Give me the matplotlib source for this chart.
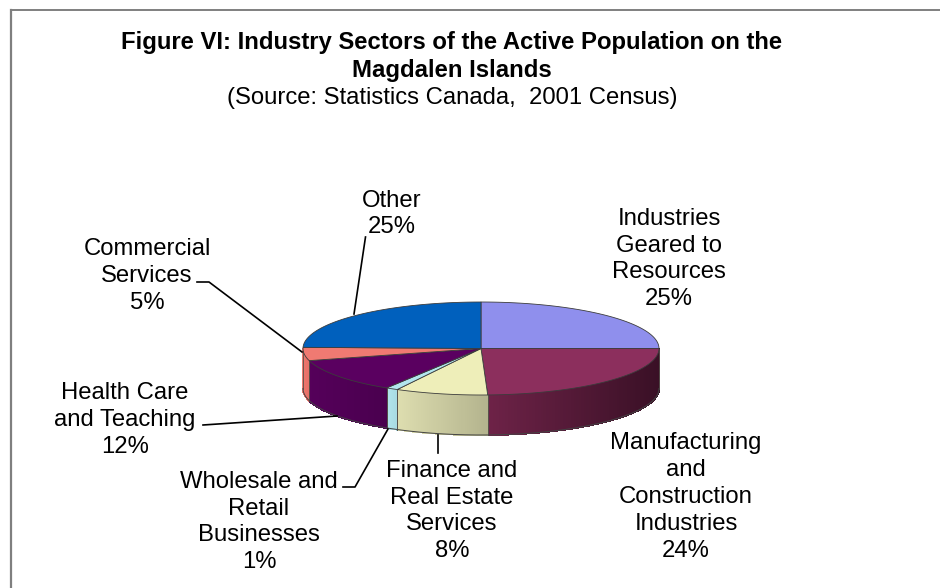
import numpy as np
import matplotlib
matplotlib.use("Agg")
import matplotlib.pyplot as plt
from matplotlib.colors import to_rgb
from matplotlib.patches import Polygon

plt.rcParams['font.family'] = ['Liberation Sans', 'DejaVu Sans']

sectors = ["Industries\nGeared to\nResources", "Manufacturing\nand\nConstruction\nIndustries",
           "Finance and\nReal Estate\nServices", "Wholesale and\nRetail\nBusinesses",
           "Health Care\nand Teaching", "Commercial\nServices", "Other"]
shares = [25, 24.4, 8.4, 1.1, 11.9, 4.6, 24.6]
top_colors = ["#8f8fed", "#8c2f5d", "#eeeeb9", "#b3e6ee", "#5a0060", "#f07a72", "#0060bd"]
side_left = ["#8f8fed", "#6e2348", "#dedeb0", "#b3e6ee", "#55005a", "#ee7a70", "#0060bd"]
side_right = ["#8f8fed", "#3a1026", "#b4b48e", "#a8dbe3", "#4a004f", "#e87068", "#0060bd"]
label_xy = [(669, 259), (686, 497), (452, 511), (259, 522), (125, 420), (147, 276), (392, 214)]
pct_text = ["25%", "24%", "8%", "1%", "12%", "5%", "25%"]
leaders = [None, None,
           [(438, 435), (438, 453)],
           [(388, 429), (355, 487), (343, 487)],
           [(337, 416), (218, 424), (203, 425)],
           [(302, 352), (209, 282), (197, 282)],
           [(354, 314), (365.5, 237)]]

CX, CY, RX, RY, DEPTH = 481, 348.5, 178, 46.5, 40

fig = plt.figure(figsize=(9.4, 5.88), dpi=100, facecolor="white")
ax = fig.add_axes([0, 0, 1, 1])
ax.set_xlim(0, 940)
ax.set_ylim(588, 0)
ax.axis("off")


def pt(theta):
    return CX + RX * np.cos(theta), CY - RY * np.sin(theta)


fractions = np.array(shares) / sum(shares)
ends = np.pi / 2 - 2 * np.pi * np.cumsum(fractions)
starts = np.concatenate([[np.pi / 2], ends[:-1]])

# side walls (only the front half of the cylinder shows)
for a0, a1, cl, cr in zip(starts, ends, side_left, side_right):
    hi = min(a0, 0.0)
    lo = max(a1, -np.pi)
    if hi <= lo:
        continue
    edges = np.linspace(lo, hi, 90)
    cl, cr = np.array(to_rgb(cl)), np.array(to_rgb(cr))
    for t0, t1 in zip(edges[:-1], edges[1:]):
        x0, y0 = pt(t0)
        x1, y1 = pt(t1)
        f = (0.5 * (x0 + x1) - pt(lo)[0]) / max(pt(hi)[0] - pt(lo)[0], 1)
        col = cl * (1 - f) + cr * f
        ax.add_patch(Polygon([(x0, y0), (x1, y1), (x1, y1 + DEPTH), (x0, y0 + DEPTH)],
                             closed=True, fc=col, ec=col, lw=0.8, antialiased=False, zorder=2))
    xa, ya = pt(lo)
    xb, yb = pt(hi)
    ax.plot([xa, xa], [ya, ya + DEPTH], color="#55504a", lw=0.6, zorder=3)
    ax.plot([xb, xb], [yb, yb + DEPTH], color="#55504a", lw=0.6, zorder=3)

ang = np.linspace(-np.pi, 0, 200)
ax.plot(pt(ang)[0], pt(ang)[1] + DEPTH, color="#444444", lw=0.7, zorder=3)

# top faces
for a0, a1, c in zip(starts, ends, top_colors):
    th = np.linspace(a0, a1, 120)
    xs, ys = pt(th)
    ax.add_patch(Polygon(np.column_stack([np.r_[CX, xs], np.r_[CY, ys]]), closed=True,
                         fc=c, ec="#3c3c3c", lw=0.6, zorder=4))

# leader lines
for seg in leaders:
    if seg:
        xs, ys = zip(*seg)
        ax.plot(xs, ys, color="black", lw=1.2, zorder=5)

# labels
for name, pct, (x, y) in zip(sectors, pct_text, label_xy):
    ax.text(x, y, name + "\n" + pct, ha="center", va="center", fontsize=17.2, color="black",
            linespacing=1.285, zorder=6)

# title
ax.text(452, 43, "Figure VI: Industry Sectors of the Active Population on the",
        ha="center", va="center", fontsize=17.2, fontweight="bold")
ax.text(452, 70, "Magdalen Islands", ha="center", va="center", fontsize=17.2, fontweight="bold")
ax.text(452, 98, "(Source: Statistics Canada,  2001 Census)", ha="center", va="center", fontsize=17.2)

# frame
ax.plot([10.5, 10.5], [588, 10], color="#7f7f7f", lw=1.6, zorder=1)
ax.plot([10.5, 940], [10, 10], color="#7f7f7f", lw=1.4, zorder=1)

fig.savefig("out.png", dpi=100)
